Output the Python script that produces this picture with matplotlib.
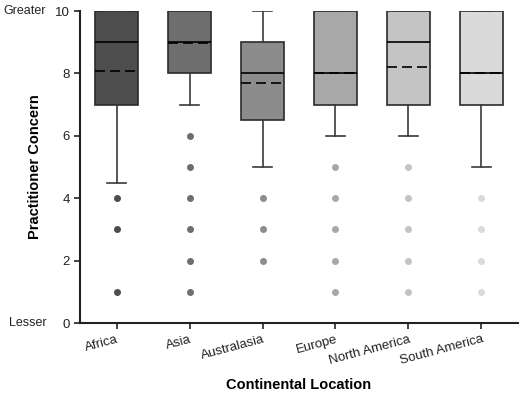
import matplotlib
matplotlib.use("Agg")
import matplotlib.pyplot as plt

plt.rcParams['font.family'] = ['Liberation Sans', 'DejaVu Sans']

# box statistics
regions = ["Africa", "Asia", "Australasia", "Europe", "North America", "South America"]
q1 = [7, 8, 6.5, 7, 7, 7]
q3 = [10, 10, 9, 10, 10, 10]
medians = [9, 9, 8, 8, 9, 8]
means = [8.07, 8.98, 7.68, 8.02, 8.21, 8.03]
whisker_lo = [4.5, 7, 5, 6, 6, 5]
whisker_hi = [10, 10, 10, 10, 10, 10]
outliers = [
    [4, 3, 1],
    [6, 5, 4, 3, 2, 1],
    [4, 3, 2],
    [5, 4, 3, 2, 1],
    [5, 4, 3, 2, 1],
    [4, 3, 2, 1],
]
fills = ["#4d4d4d", "#6e6e6e", "#8c8c8c", "#a8a8a8", "#c4c4c4", "#dadada"]

fig = plt.figure(figsize=(5.2, 3.94), dpi=100)
ax = fig.add_axes([0.154, 0.180, 0.842, 0.792])

stats = []
for i in range(len(regions)):
    stats.append(dict(label=regions[i], q1=q1[i], q3=q3[i], med=medians[i],
                      mean=means[i], whislo=whisker_lo[i], whishi=whisker_hi[i],
                      fliers=outliers[i]))

bp = ax.bxp(stats, positions=range(len(regions)), widths=0.6, patch_artist=True,
            showmeans=True, meanline=True,
            boxprops=dict(edgecolor="#2b2b2b", linewidth=1.2),
            medianprops=dict(color="black", linewidth=1.2),
            meanprops=dict(color="black", linestyle=(0, (6, 3)), linewidth=1.2),
            whiskerprops=dict(color="#3a3a3a", linewidth=1.2),
            capprops=dict(color="#3a3a3a", linewidth=1.2),
            capwidths=0.26)

for i, patch in enumerate(bp['boxes']):
    patch.set_facecolor(fills[i])
for i, fl in enumerate(bp['fliers']):
    fl.set(marker='o', markersize=4, markerfacecolor=fills[i],
           markeredgecolor=fills[i])

ax.set_xlim(-0.5, 5.5)
ax.set_ylim(0, 10)
ax.set_yticks([0, 2, 4, 6, 8, 10])
ax.set_xticks(range(len(regions)))
ax.set_xticklabels(regions, rotation=15, ha='right', rotation_mode='anchor')
ax.tick_params(axis='both', labelsize=9.5, direction='out', length=4, width=1.2,
               colors='#222222')
for s in ['top', 'right']:
    ax.spines[s].set_visible(False)
for s in ['left', 'bottom']:
    ax.spines[s].set_linewidth(1.5)
    ax.spines[s].set_color('#222222')

ax.set_ylabel("Practitioner Concern", fontsize=10.5, fontweight='bold')
ax.yaxis.set_label_coords(-0.103, 0.5)
ax.set_xlabel("Continental Location", fontsize=10.5, fontweight='bold')
ax.xaxis.set_label_coords(0.5, -0.199)
ax.xaxis.label.set_va('center')
ax.yaxis.label.set_va('center')

ax.text(-0.176, 10, "Greater", transform=ax.get_yaxis_transform(), fontsize=9,
        ha='left', va='center', color='#222222')
ax.text(-0.162, 0, "Lesser", transform=ax.get_yaxis_transform(), fontsize=9,
        ha='left', va='center', color='#222222')

fig.savefig("out.png", dpi=100)
